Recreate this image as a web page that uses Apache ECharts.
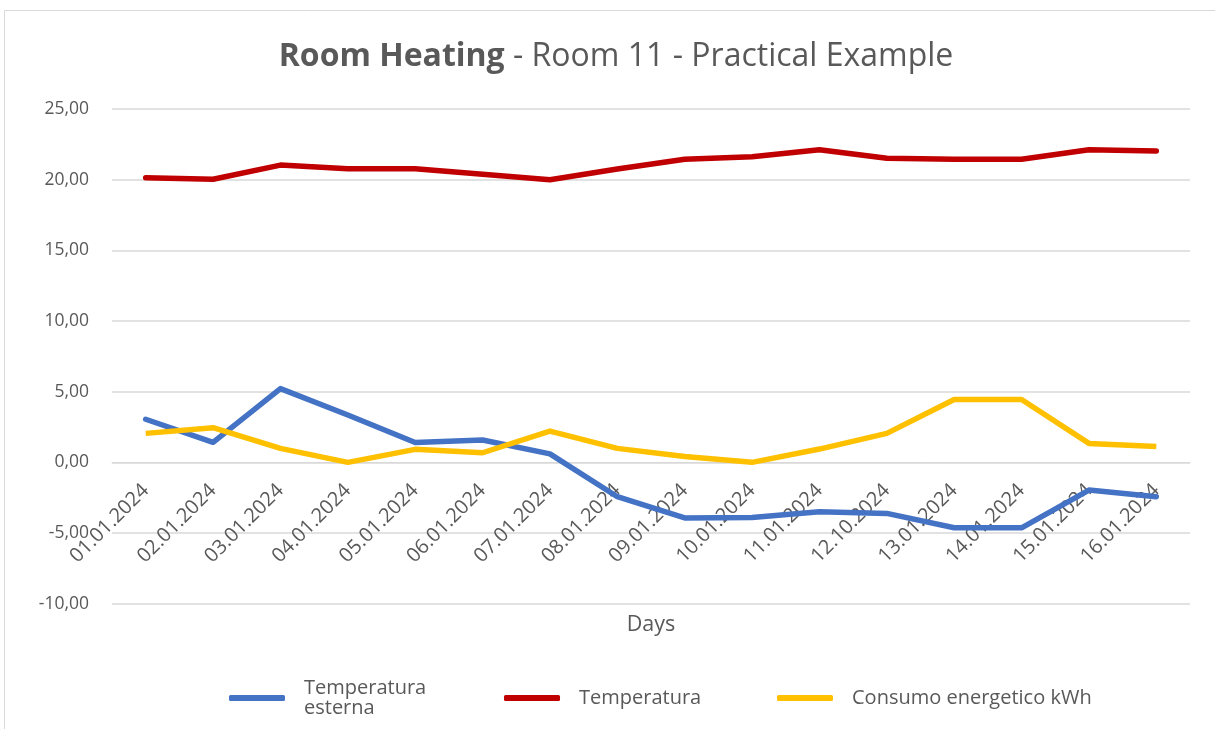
<!DOCTYPE html>
<html>
<head>
<meta charset="utf-8">
<script src="https://cdn.jsdelivr.net/npm/echarts@6/dist/echarts.min.js"></script>
<style>
html,body{margin:0;padding:0;background:#fff;}
#chart{width:1215px;height:729px;}
</style>
</head>
<body>
<div id="chart"></div>
<script>
var categories = ['01.01.2024','02.01.2024','03.01.2024','04.01.2024','05.01.2024','06.01.2024','07.01.2024','08.01.2024','09.01.2024','10.01.2024','11.01.2024','12.10.2024','13.01.2024','14.01.2024','15.01.2024','16.01.2024'];
var tempEsterna = [3.05, 1.42, 5.22, 3.35, 1.40, 1.58, 0.60, -2.43, -3.93, -3.90, -3.50, -3.61, -4.63, -4.63, -1.96, -2.43];
var temperatura = [20.14, 20.03, 21.03, 20.77, 20.77, 20.38, 19.99, 20.75, 21.45, 21.62, 22.12, 21.51, 21.45, 21.45, 22.12, 22.03];
var consumo = [2.05, 2.45, 0.99, 0.00, 0.92, 0.68, 2.21, 0.99, 0.42, 0.00, 0.94, 2.05, 4.45, 4.45, 1.34, 1.12];
var seriesNames = ['Temperatura esterna', 'Temperatura', 'Consumo energetico kWh'];
var yTicks = {min: -10, max: 25, interval: 5};

var TXT = '#595959';
var FONT = 'Open Sans';
var GRID_TOP = 109, GRID_BOTTOM = 125.3, H = 729;
// pixel distance from the bottom of the plot to the zero line (x axis crosses at 0)
var plotH = H - GRID_TOP - GRID_BOTTOM;
var zeroOffset = plotH * (0 - yTicks.min) / (yTicks.max - yTicks.min);

var chart = echarts.init(document.getElementById('chart'), null, {renderer: 'canvas'});
function legendCfg(name, left, top) {
  return {
    data: [name],
    left: left, top: top, padding: 0,
    itemWidth: 56, itemHeight: 6, icon: 'roundRect',
    selectedMode: false,
    formatter: function (n) { return n === 'Temperatura esterna' ? 'Temperatura\nesterna' : n; },
    textStyle: {color: TXT, fontFamily: FONT, fontSize: 20, lineHeight: 20, padding: [0, 0, 0, 14]}
  };
}
var option = {
  backgroundColor: '#fff',
  animation: false,
  graphic: [{
    type: 'rect', shape: {x: 4.5, y: 10.5, width: 1240, height: 760},
    style: {fill: 'none', stroke: '#d9d9d9', lineWidth: 1}, silent: true
  }],
  title: {
    text: '{b|Room Heating}{n| - Room 11 - Practical Example}',
    left: 611, top: 36, textAlign: 'center',
    textStyle: {
      fontWeight: 'normal',
      rich: {
        b: {fontFamily: FONT, fontSize: 32, fontWeight: 'bold', color: TXT},
        n: {fontFamily: FONT, fontSize: 32, fontWeight: 'normal', color: TXT}
      }
    }
  },
  legend: [
    legendCfg(seriesNames[0], 229, 678),
    legendCfg(seriesNames[1], 504, 688),
    legendCfg(seriesNames[2], 777, 688)
  ],
  grid: {left: 112, right: 25, top: GRID_TOP, bottom: GRID_BOTTOM, containLabel: false, outerBoundsMode: 'none'},
  xAxis: {
    type: 'category', data: categories, boundaryGap: true,
    offset: -zeroOffset,
    axisLine: {onZero: false, lineStyle: {color: '#d9d9d9'}},
    axisTick: {show: false},
    axisLabel: {interval: 0, rotate: 45, margin: 25, color: TXT, fontFamily: FONT, fontSize: 20},
    name: 'Days', nameLocation: 'middle', nameGap: 152,
    nameTextStyle: {color: TXT, fontFamily: FONT, fontSize: 21.5}
  },
  yAxis: {
    type: 'value', min: yTicks.min, max: yTicks.max, interval: yTicks.interval,
    axisLine: {show: false}, axisTick: {show: false},
    splitLine: {lineStyle: {color: '#d9d9d9', width: 1.5}},
    axisLabel: {margin: 23, color: TXT, fontFamily: FONT, fontSize: 17.5,
      formatter: function (v) { return v.toFixed(2).replace('.', ','); }}
  },
  series: [
    {name: seriesNames[0], type: 'line', data: tempEsterna, symbol: 'none', z: 3,
      lineStyle: {color: '#4472C4', width: 5.5, cap: 'round', join: 'round'}, itemStyle: {color: '#4472C4'}},
    {name: seriesNames[1], type: 'line', data: temperatura, symbol: 'none', z: 2,
      lineStyle: {color: '#C00000', width: 5.5, cap: 'round', join: 'round'}, itemStyle: {color: '#C00000'}},
    {name: seriesNames[2], type: 'line', data: consumo, symbol: 'none', z: 4,
      lineStyle: {color: '#FFC000', width: 5.5, cap: 'butt', join: 'round'}, itemStyle: {color: '#FFC000'}}
  ]
};
chart.setOption(option);
</script>
</body>
</html>
